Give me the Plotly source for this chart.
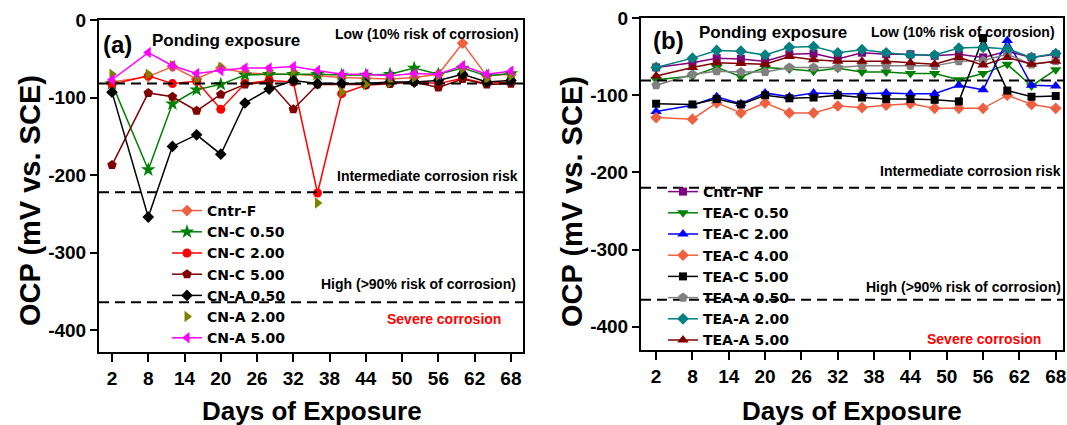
import plotly.graph_objects as go

# ---------------- data ----------------
days = [2, 8, 12, 16, 20, 24, 28, 32, 36, 40, 44, 48, 52, 56, 60, 64, 68]

# panel (a)
cntr_f  = [-80, -73, -60, -76, -62, -68, -70, -70, -72, -74, -75, -76, -74, -70, -30, -72, -70]
cn_c050 = [-82, -193, -108, -90, -83, -71, -70, -70, -70, -71, -71, -70, -62, -70, -62, -72, -69]
cn_c200 = [-83, -72, -82, -79, -115, -82, -78, -80, -223, -95, -84, -82, -80, -82, -75, -82, -80]
cn_c500 = [-187, -94, -99, -117, -96, -83, -80, -115, -83, -83, -83, -82, -80, -87, -76, -83, -82]
cn_a050 = [-93, -254, -163, -148, -173, -107, -89, -78, -82, -82, -82, -80, -80, -78, -70, -80, -78]
cn_a200 = [-70, -70, -59, -76, -61, -65, -65, -66, -236, -93, -83, -81, -74, -72, -63, -76, -72]
cn_a500 = [-77, -42, -59, -69, -65, -62, -62, -60, -65, -70, -70, -72, -69, -70, -59, -70, -66]

# panel (b)
cntr_nf  = [-64, -58, -52, -53, -56, -47, -46, -53, -45, -47, -47, -49, -47, -51, -43, -51, -47]
tea_c050 = [-80, -75, -64, -76, -64, -66, -69, -65, -70, -70, -72, -72, -80, -72, -60, -88, -67]
tea_c200 = [-121, -113, -102, -111, -97, -102, -97, -98, -98, -97, -98, -98, -87, -93, -29, -87, -88]
tea_c400 = [-129, -131, -110, -123, -110, -123, -123, -114, -116, -113, -111, -117, -117, -117, -100, -112, -117]
tea_c500 = [-111, -112, -105, -112, -100, -104, -103, -100, -103, -105, -105, -106, -108, -26, -94, -102, -101]
tea_a050 = [-87, -73, -69, -70, -70, -64, -64, -64, -62, -62, -62, -62, -56, -55, -47, -60, -56]
tea_a200 = [-64, -52, -42, -43, -48, -38, -37, -45, -41, -45, -48, -48, -39, -38, -40, -51, -46]
tea_a500 = [-75, -64, -58, -59, -60, -50, -54, -56, -56, -56, -58, -60, -51, -61, -51, -60, -56]

thresholds_a = [-82, -222, -364]
thresholds_b = [-81, -220, -365]

x_ticks = [2, 8, 14, 20, 26, 32, 38, 44, 50, 56, 62, 68]
x_tick_labels = [str(v) for v in x_ticks]
y_ticks = [0, -100, -200, -300, -400]
y_tick_labels = ["0", "-100", "-200", "-300", "-400"]

# ---------------- figure ----------------
W, H = 1067, 425
def px(x): return x / W
def py(y): return 1 - y / H

FONT = "Liberation Sans, Arial, sans-serif"
LEGFONT = "DejaVu Sans, Liberation Sans, sans-serif"

fig = go.Figure()

series_a = [
    ("Cntr-F", cntr_f, "#EE6040", "diamond", 9, "lines+markers"),
    ("CN-C 0.50", cn_c050, "#008000", "star", 11, "lines+markers"),
    ("CN-C 2.00", cn_c200, "#FF0000", "circle", 9, "lines+markers"),
    ("CN-C 5.00", cn_c500, "#800000", "pentagon", 10, "lines+markers"),
    ("CN-A 0.50", cn_a050, "#000000", "diamond", 9, "lines+markers"),
    ("CN-A 2.00", cn_a200, "#808000", "triangle-right", 10, "markers"),
    ("CN-A 5.00", cn_a500, "#FF00FF", "triangle-left", 10, "lines+markers"),
]
series_b = [
    ("Cntr-NF", cntr_nf, "#800080", "square", 8, "lines+markers"),
    ("TEA-C 0.50", tea_c050, "#008000", "triangle-down", 10, "lines+markers"),
    ("TEA-C 2.00", tea_c200, "#0000FF", "triangle-up", 10, "lines+markers"),
    ("TEA-C 4.00", tea_c400, "#EE6040", "diamond", 9, "lines+markers"),
    ("TEA-C 5.00", tea_c500, "#000000", "square", 8, "lines+markers"),
    ("TEA-A 0.50", tea_a050, "#808080", "pentagon", 10, "lines+markers"),
    ("TEA-A 2.00", tea_a200, "#008080", "diamond", 9, "lines+markers"),
    ("TEA-A 5.00", tea_a500, "#800000", "triangle-up", 10, "lines+markers"),
]

for name, vals, col, sym, sz, mode in series_a:
    fig.add_trace(go.Scatter(x=days, y=vals, name=name, mode=mode,
                             line=dict(color=col, width=1.5),
                             marker=dict(color=col, symbol=sym, size=sz),
                             xaxis="x", yaxis="y", legend="legend"))
for name, vals, col, sym, sz, mode in series_b:
    fig.add_trace(go.Scatter(x=days, y=vals, name=name, mode=mode,
                             line=dict(color=col, width=1.5),
                             marker=dict(color=col, symbol=sym, size=sz),
                             xaxis="x2", yaxis="y2", legend="legend2"))

def xax(domain, rng, anchor):
    return dict(domain=domain, range=rng, anchor=anchor,
                tickmode="array", tickvals=x_ticks, ticktext=x_tick_labels,
                ticks="outside", ticklen=8, tickwidth=2, tickcolor="black",
                showline=True, mirror=True, linewidth=2, linecolor="black",
                showgrid=False, zeroline=False, automargin=False,
                ticklabeloverflow="allow",
                tickfont=dict(family=FONT, size=19, color="black", weight="bold"))

def yax(domain, rng, anchor):
    return dict(domain=domain, range=rng, anchor=anchor,
                tickmode="array", tickvals=y_ticks, ticktext=y_tick_labels,
                ticks="outside", ticklen=7, tickwidth=2, tickcolor="black",
                showline=True, mirror=True, linewidth=2, linecolor="black",
                showgrid=False, zeroline=False, automargin=False,
                ticklabeloverflow="allow",
                tickfont=dict(family=FONT, size=19, color="black", weight="bold"))

legend_common = dict(xanchor="left", yanchor="top", bgcolor="rgba(0,0,0,0)",
                     font=dict(family=LEGFONT, size=14, color="black", weight="bold"),
                     tracegroupgap=0, itemwidth=30, borderwidth=0)

fig.update_layout(
    width=W, height=H,
    margin=dict(l=0, r=0, t=0, b=0, pad=0, autoexpand=False),
    paper_bgcolor="white", plot_bgcolor="white",
    showlegend=True,
    xaxis=xax([px(99), px(523)], [-0.15, 70], "y"),
    yaxis=yax([py(352), py(20)], [-428, 0], "x"),
    xaxis2=xax([px(641), px(1063)], [-0.5, 69.2], "y2"),
    yaxis2=yax([py(350), py(18)], [-430, 0], "x2"),
    legend=dict(x=px(167), y=py(195), **legend_common),
    legend2=dict(x=px(663), y=py(176), **legend_common),
)

# threshold lines
for t in thresholds_a:
    fig.add_shape(type="line", xref="x domain", yref="y", x0=0, x1=1, y0=t, y1=t,
                  line=dict(color="black", width=2, dash="10px,6px"))
for t in thresholds_b:
    fig.add_shape(type="line", xref="x2 domain", yref="y2", x0=0, x1=1, y0=t, y1=t,
                  line=dict(color="black", width=2, dash="10px,6px"))

def ann(text, x, y, size, color="black", family=FONT, angle=0):
    fig.add_annotation(text=text, x=px(x), y=py(y), xref="paper", yref="paper",
                       showarrow=False, xanchor="center", yanchor="middle",
                       textangle=angle,
                       font=dict(family=family, size=size, color=color))

# panel (a) texts
ann("<b>(a)</b>", 117, 45, 24)
ann("<b>Ponding exposure</b>", 226, 41, 17)
ann("<b>Low (10% risk of corrosion)</b>", 427, 34, 14)
ann("<b>Intermediate corrosion risk</b>", 428, 176, 14)
ann("<b>High (&gt;90% risk of corrosion)</b>", 418, 284, 14)
ann("<b>Severe corrosion</b>", 444, 319, 14, color="#FF0000")
ann("<b>OCP (mV vs. SCE)</b>", 30, 201, 29, angle=-90)
ann("<b>Days of Exposure</b>", 312, 411, 26)

# panel (b) texts
ann("<b>(b)</b>", 668, 40, 24)
ann("<b>Ponding exposure</b>", 773, 33, 17)
ann("<b>Low (10% risk of corrosion)</b>", 963, 32, 14)
ann("<b>Intermediate corrosion risk</b>", 970, 171, 14)
ann("<b>High (&gt;90% risk of corrosion)</b>", 963, 287, 14)
ann("<b>Severe corrosion</b>", 984, 339, 14, color="#FF0000")
ann("<b>OCP (mV vs. SCE)</b>", 572, 202, 29, angle=-90)
ann("<b>Days of Exposure</b>", 852, 411, 26)

page_js = ("document.body.style.margin='0';document.body.style.padding='0';"
           "document.body.style.overflow='hidden';"
           "var d=document.getElementById('{plot_id}');"
           "d.style.position='absolute';d.style.left='0px';d.style.top='0px';")

fig.write_html("out.html", post_script=page_js, config={"displayModeBar": False})
